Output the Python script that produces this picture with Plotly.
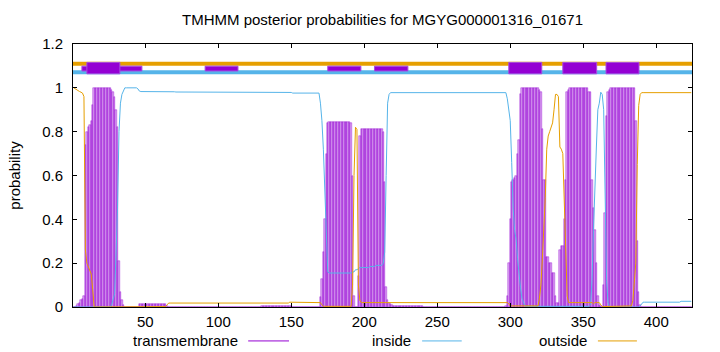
import plotly.graph_objects as go

# ---------------- data ----------------
seq_len = 424
residue = list(range(1, seq_len + 1))

tm_prob = [
    # 1-10
    0, 0, 0.005, 0.015, 0.02, 0.03, 0.035, 0.05, 0.74, 0.80,
    # 11-20
    0.82, 0.83, 0.85, 0.92, 1.0, 1.0, 1.0, 1.0, 1.0, 1.0,
    # 21-30
    1.0, 1.0, 1.0, 1.0, 1.0, 1.0, 0.99, 0.98, 0.96, 0.90,
    # 31-40
    0.82, 0.21, 0.07, 0.03, 0.01, 0, 0, 0, 0, 0,
    # 41-50
    0, 0, 0, 0, 0, 0.015, 0.015, 0.015, 0.015, 0.015,
    # 51-60
    0.015, 0.015, 0.015, 0.015, 0.015, 0.015, 0.015, 0.015, 0.015, 0.015,
    # 61-70
    0.015, 0.015, 0.015, 0.015, 0.005, 0, 0, 0, 0, 0,
    # 71-80
    0, 0, 0, 0, 0, 0, 0, 0, 0, 0,
    # 81-90
    0, 0, 0, 0, 0, 0, 0, 0, 0, 0,
    # 91-100
    0, 0, 0, 0, 0, 0, 0, 0, 0, 0,
    # 101-110
    0, 0, 0, 0, 0, 0, 0, 0, 0, 0,
    # 111-120
    0, 0, 0, 0, 0, 0, 0, 0, 0, 0,
    # 121-130
    0, 0, 0, 0, 0, 0, 0, 0, 0, 0.003,
    # 131-140
    0.003, 0.003, 0.003, 0.003, 0.003, 0.003, 0.003, 0.003, 0.003, 0.003,
    # 141-150
    0.003, 0.003, 0.003, 0.003, 0.003, 0.003, 0.003, 0.003, 0.003, 0.003,
    # 151-160
    0.002, 0.002, 0.002, 0.002, 0.002, 0.002, 0.002, 0.002, 0.002, 0.002,
    # 161-170
    0.002, 0.002, 0.002, 0.002, 0.002, 0.002, 0.002, 0.002, 0.002, 0.045,
    # 171-180
    0.13, 0.25, 0.40, 0.70, 0.84, 0.846, 0.846, 0.846, 0.846, 0.846,
    # 181-190
    0.846, 0.846, 0.846, 0.846, 0.846, 0.846, 0.846, 0.846, 0.846, 0.846,
    # 191-200
    0.84, 0.60, 0.05, 0, 0, 0.14, 0.78, 0.81, 0.81, 0.81,
    # 201-210
    0.81, 0.81, 0.81, 0.81, 0.81, 0.81, 0.81, 0.81, 0.81, 0.81,
    # 211-220
    0.81, 0.81, 0.80, 0.57, 0.09, 0.03, 0.02, 0.015, 0.01, 0.005,
    # 221-230
    0.003, 0.003, 0.003, 0.003, 0.003, 0.003, 0.003, 0.003, 0.003, 0.003,
    # 231-240
    0.003, 0.003, 0.003, 0.003, 0.003, 0.003, 0.003, 0.003, 0.003, 0.003,
    # 241-250
    0.002, 0.002, 0.002, 0.002, 0.002, 0.002, 0.002, 0.002, 0.002, 0.002,
    # 251-260
    0.002, 0.002, 0.002, 0.002, 0.002, 0.002, 0.002, 0.002, 0.002, 0.002,
    # 261-270
    0.002, 0.002, 0.002, 0.002, 0.002, 0.002, 0.002, 0.002, 0.002, 0.002,
    # 271-280
    0.002, 0.002, 0.002, 0.002, 0.002, 0.002, 0.002, 0.002, 0.002, 0.002,
    # 281-290
    0.002, 0.002, 0.002, 0.002, 0.002, 0.002, 0.002, 0.002, 0.002, 0.002,
    # 291-300
    0.002, 0.002, 0.002, 0.002, 0.002, 0.002, 0.003, 0.05, 0.20, 0.40,
    # 301-310
    0.57, 0.58, 0.59, 0.60, 0.70, 0.76, 0.97, 1.0, 1.0, 1.0,
    # 311-320
    1.0, 1.0, 1.0, 1.0, 1.0, 1.0, 1.0, 1.0, 1.0, 0.99,
    # 321-330
    0.98, 0.81, 0.58, 0.58, 0.23, 0.23, 0.20, 0.20, 0.155, 0.155,
    # 331-340
    0.05, 0.02, 0.02, 0.26, 0.28, 0.28, 0.40, 0.58, 0.98, 0.99,
    # 341-350
    1.0, 1.0, 1.0, 1.0, 1.0, 1.0, 1.0, 1.0, 1.0, 1.0,
    # 351-360
    1.0, 1.0, 1.0, 0.98, 0.98, 0.58, 0.45, 0.35, 0.20, 0.05,
    # 361-370
    0.01, 0.005, 0, 0.10, 0.43, 0.87, 0.98, 0.99, 1.0, 1.0,
    # 371-380
    1.0, 1.0, 1.0, 1.0, 1.0, 1.0, 1.0, 1.0, 1.0, 1.0,
    # 381-390
    1.0, 1.0, 1.0, 1.0, 1.0, 0.85, 0.30, 0.07, 0.01, 0,
    # 391-400
    0, 0, 0, 0, 0, 0, 0, 0, 0, 0,
    # 401-410
    0, 0, 0, 0, 0, 0, 0, 0, 0, 0,
    # 411-420
    0, 0, 0, 0, 0, 0, 0, 0, 0, 0,
    # 421-424
    0, 0, 0, 0,
]

inside_prob = [
    # 1-10
    0, 0, 0, 0, 0, 0, 0, 0, 0, 0,
    # 11-20
    0, 0, 0, 0, 0, 0, 0, 0, 0, 0,
    # 21-30
    0, 0, 0, 0, 0, 0, 0.01, 0.03, 0.06, 0.25,
    # 31-40
    0.45, 0.80, 0.93, 0.97, 0.99, 1.0, 1.0, 1.0, 1.0, 1.0,
    # 41-50
    1.0, 1.0, 1.0, 1.0, 0.995, 0.985, 0.983, 0.983, 0.983, 0.983,
    # 51-60
    0.983, 0.983, 0.983, 0.983, 0.983, 0.983, 0.983, 0.983, 0.983, 0.983,
    # 61-70
    0.983, 0.983, 0.983, 0.983, 0.985, 0.982, 0.982, 0.982, 0.982, 0.982,
    # 71-80
    0.981, 0.981, 0.981, 0.981, 0.981, 0.981, 0.981, 0.981, 0.981, 0.981,
    # 81-90
    0.981, 0.981, 0.981, 0.981, 0.981, 0.981, 0.981, 0.981, 0.981, 0.981,
    # 91-100
    0.981, 0.981, 0.981, 0.981, 0.981, 0.981, 0.981, 0.981, 0.981, 0.981,
    # 101-110
    0.981, 0.981, 0.981, 0.981, 0.981, 0.981, 0.981, 0.981, 0.981, 0.981,
    # 111-120
    0.981, 0.981, 0.981, 0.981, 0.981, 0.981, 0.981, 0.981, 0.981, 0.981,
    # 121-130
    0.981, 0.981, 0.981, 0.981, 0.981, 0.981, 0.981, 0.981, 0.981, 0.981,
    # 131-140
    0.979, 0.979, 0.979, 0.979, 0.979, 0.979, 0.979, 0.979, 0.979, 0.979,
    # 141-150
    0.979, 0.979, 0.979, 0.979, 0.979, 0.979, 0.979, 0.979, 0.979, 0.979,
    # 151-160
    0.976, 0.976, 0.976, 0.976, 0.976, 0.976, 0.976, 0.976, 0.976, 0.976,
    # 161-170
    0.976, 0.976, 0.976, 0.976, 0.976, 0.976, 0.976, 0.976, 0.976, 0.93,
    # 171-180
    0.85, 0.72, 0.50, 0.27, 0.16, 0.155, 0.155, 0.155, 0.155, 0.155,
    # 181-190
    0.155, 0.155, 0.155, 0.155, 0.155, 0.155, 0.155, 0.155, 0.155, 0.155,
    # 191-200
    0.155, 0.16, 0.16, 0.17, 0.17, 0.175, 0.18, 0.18, 0.18, 0.18,
    # 201-210
    0.18, 0.18, 0.18, 0.185, 0.185, 0.185, 0.185, 0.19, 0.19, 0.19,
    # 211-220
    0.19, 0.19, 0.20, 0.25, 0.60, 0.93, 0.97, 0.978, 0.978, 0.978,
    # 221-230
    0.978, 0.978, 0.978, 0.978, 0.978, 0.978, 0.978, 0.978, 0.978, 0.978,
    # 231-240
    0.978, 0.978, 0.978, 0.978, 0.978, 0.978, 0.978, 0.978, 0.978, 0.978,
    # 241-250
    0.978, 0.978, 0.978, 0.978, 0.978, 0.978, 0.978, 0.978, 0.978, 0.978,
    # 251-260
    0.978, 0.978, 0.978, 0.978, 0.978, 0.978, 0.978, 0.978, 0.978, 0.978,
    # 261-270
    0.978, 0.978, 0.978, 0.978, 0.978, 0.978, 0.978, 0.978, 0.978, 0.978,
    # 271-280
    0.978, 0.978, 0.978, 0.978, 0.978, 0.978, 0.978, 0.978, 0.978, 0.978,
    # 281-290
    0.978, 0.978, 0.978, 0.978, 0.978, 0.978, 0.978, 0.978, 0.978, 0.978,
    # 291-300
    0.978, 0.978, 0.978, 0.978, 0.978, 0.978, 0.978, 0.95, 0.90, 0.85,
    # 301-310
    0.66, 0.45, 0.35, 0.31, 0.22, 0.14, 0.09, 0.04, 0.02, 0.005,
    # 311-320
    0.003, 0.003, 0.003, 0.003, 0.003, 0.003, 0.003, 0.003, 0.003, 0.003,
    # 321-330
    0.003, 0.003, 0.003, 0.003, 0.003, 0.003, 0.003, 0.003, 0.003, 0.003,
    # 331-340
    0.003, 0.003, 0.003, 0.003, 0.003, 0.003, 0.003, 0.003, 0.003, 0.003,
    # 341-350
    0.003, 0.003, 0.003, 0.003, 0.003, 0.003, 0.003, 0.003, 0.003, 0.003,
    # 351-360
    0.003, 0.003, 0.003, 0.003, 0.01, 0.12, 0.35, 0.58, 0.73, 0.90,
    # 361-370
    0.93, 0.98, 0.97, 0.90, 0.55, 0.12, 0.02, 0, 0, 0,
    # 371-380
    0, 0, 0, 0, 0, 0, 0, 0, 0, 0,
    # 381-390
    0, 0, 0, 0, 0, 0, 0, 0, 0.005, 0.015,
    # 391-400
    0.022, 0.022, 0.022, 0.022, 0.022, 0.022, 0.022, 0.022, 0.022, 0.022,
    # 401-410
    0.022, 0.022, 0.022, 0.022, 0.022, 0.022, 0.022, 0.022, 0.022, 0.022,
    # 411-420
    0.022, 0.022, 0.022, 0.022, 0.022, 0.022, 0.026, 0.026, 0.026, 0.026,
    # 421-424
    0.026, 0.026, 0.026, 0.026,
]

outside_prob = [
    # 1-10
    1.0, 0.995, 0.99, 0.985, 0.983, 0.98, 0.976, 0.96, 0.26, 0.20,
    # 11-20
    0.18, 0.17, 0.15, 0.08, 0, 0, 0, 0, 0, 0,
    # 21-30
    0, 0, 0, 0, 0, 0, 0, 0, 0, 0,
    # 31-40
    0, 0, 0, 0, 0, 0, 0, 0, 0, 0,
    # 41-50
    0, 0, 0, 0, 0, 0.002, 0.002, 0.002, 0.002, 0.002,
    # 51-60
    0.002, 0.002, 0.002, 0.002, 0.002, 0.002, 0.002, 0.002, 0.002, 0.002,
    # 61-70
    0.002, 0.002, 0.002, 0.002, 0.01, 0.018, 0.018, 0.018, 0.018, 0.018,
    # 71-80
    0.018, 0.018, 0.018, 0.018, 0.018, 0.018, 0.018, 0.018, 0.018, 0.018,
    # 81-90
    0.018, 0.018, 0.018, 0.018, 0.018, 0.018, 0.018, 0.018, 0.018, 0.018,
    # 91-100
    0.018, 0.018, 0.018, 0.018, 0.018, 0.018, 0.018, 0.018, 0.018, 0.018,
    # 101-110
    0.018, 0.018, 0.018, 0.018, 0.018, 0.018, 0.018, 0.018, 0.018, 0.018,
    # 111-120
    0.018, 0.018, 0.018, 0.018, 0.018, 0.018, 0.018, 0.018, 0.018, 0.018,
    # 121-130
    0.018, 0.018, 0.018, 0.018, 0.018, 0.018, 0.018, 0.018, 0.018, 0.018,
    # 131-140
    0.018, 0.018, 0.018, 0.018, 0.018, 0.018, 0.018, 0.018, 0.018, 0.018,
    # 141-150
    0.018, 0.018, 0.018, 0.018, 0.018, 0.018, 0.018, 0.018, 0.022, 0.022,
    # 151-160
    0.022, 0.022, 0.022, 0.022, 0.022, 0.022, 0.022, 0.022, 0.022, 0.022,
    # 161-170
    0.022, 0.022, 0.022, 0.022, 0.022, 0.022, 0.022, 0.022, 0.022, 0.02,
    # 171-180
    0.01, 0.003, 0.003, 0.003, 0.003, 0.003, 0.003, 0.003, 0.003, 0.003,
    # 181-190
    0.003, 0.003, 0.003, 0.003, 0.003, 0.003, 0.003, 0.003, 0.003, 0.003,
    # 191-200
    0.003, 0.10, 0.60, 0.82, 0.81, 0.10, 0.03, 0.02, 0.02, 0.02,
    # 201-210
    0.02, 0.02, 0.02, 0.02, 0.02, 0.02, 0.02, 0.02, 0.02, 0.02,
    # 211-220
    0.02, 0.02, 0.02, 0.02, 0.02, 0.02, 0.02, 0.02, 0.02, 0.02,
    # 221-230
    0.02, 0.02, 0.02, 0.02, 0.02, 0.02, 0.02, 0.02, 0.02, 0.02,
    # 231-240
    0.02, 0.02, 0.02, 0.02, 0.02, 0.02, 0.02, 0.02, 0.02, 0.02,
    # 241-250
    0.02, 0.02, 0.02, 0.02, 0.02, 0.02, 0.02, 0.02, 0.02, 0.02,
    # 251-260
    0.02, 0.02, 0.02, 0.02, 0.02, 0.02, 0.02, 0.02, 0.02, 0.02,
    # 261-270
    0.02, 0.02, 0.02, 0.02, 0.02, 0.02, 0.02, 0.02, 0.02, 0.02,
    # 271-280
    0.02, 0.02, 0.02, 0.02, 0.02, 0.02, 0.02, 0.02, 0.02, 0.02,
    # 281-290
    0.02, 0.02, 0.02, 0.02, 0.02, 0.02, 0.02, 0.02, 0.02, 0.02,
    # 291-300
    0.02, 0.02, 0.02, 0.02, 0.02, 0.02, 0.02, 0.02, 0.015, 0.005,
    # 301-310
    0.005, 0.005, 0.005, 0.005, 0.005, 0.005, 0.005, 0.005, 0.005, 0.005,
    # 311-320
    0.005, 0.005, 0.005, 0.005, 0.005, 0.005, 0.005, 0.005, 0.005, 0.04,
    # 321-330
    0.10, 0.22, 0.35, 0.50, 0.72, 0.78, 0.80, 0.82, 0.84, 0.90,
    # 331-340
    0.97, 0.97, 0.96, 0.73, 0.72, 0.70, 0.50, 0.20, 0.05, 0.02,
    # 341-350
    0.02, 0.02, 0.02, 0.02, 0.02, 0.02, 0.02, 0.02, 0.02, 0.02,
    # 351-360
    0.02, 0.02, 0.02, 0.02, 0.02, 0.02, 0.015, 0.02, 0.02, 0.02,
    # 361-370
    0.02, 0.01, 0.002, 0.002, 0.002, 0.002, 0.002, 0.002, 0.002, 0.002,
    # 371-380
    0.002, 0.002, 0.002, 0.002, 0.002, 0.002, 0.002, 0.002, 0.002, 0.002,
    # 381-390
    0.002, 0.002, 0.005, 0.03, 0.12, 0.20, 0.65, 0.92, 0.97, 0.978,
    # 391-400
    0.978, 0.978, 0.978, 0.978, 0.978, 0.978, 0.978, 0.978, 0.978, 0.978,
    # 401-410
    0.978, 0.978, 0.978, 0.978, 0.978, 0.978, 0.978, 0.978, 0.978, 0.978,
    # 411-420
    0.978, 0.978, 0.978, 0.978, 0.978, 0.978, 0.978, 0.978, 0.978, 0.978,
    # 421-424
    0.978, 0.978, 0.978, 0.978,
]

# predicted topology segments shown above the curves (residue start, end)
tm_helices = [(10, 32.6), (299, 321.6), (336, 359.2), (365.6, 388.2)]
minor_segments = [(6.6, 47.7), (91, 113.5), (175, 197.7), (207, 229.9)]

x_ticks = [50, 100, 150, 200, 250, 300, 350, 400]
y_ticks = [0, 0.2, 0.4, 0.6, 0.8, 1.0, 1.2]
y_tick_labels = ["0", "0.2", "0.4", "0.6", "0.8", "1", "1.2"]

title_text = "TMHMM posterior probabilities for MGYG000001316_01671"
legend_names = ["transmembrane", "inside", "outside"]

assert len(tm_prob) == seq_len and len(inside_prob) == seq_len and len(outside_prob) == seq_len

# ---------------- styling ----------------
C_TM = "#9400d3"
C_IN = "#56b4e9"
C_OUT = "#e69f00"
FONT = "Liberation Sans"
FS = 15

fig = go.Figure()
fig.add_trace(go.Bar(
    x=residue, y=tm_prob, width=1,
    marker=dict(color="rgba(148,0,211,0.35)", line=dict(color="rgba(148,0,211,0.8)", width=0.5)),
    showlegend=False, hoverinfo="skip",
))
fig.add_trace(go.Scatter(x=residue, y=inside_prob, mode="lines",
                         line=dict(color=C_IN, width=1), showlegend=False))
fig.add_trace(go.Scatter(x=residue, y=outside_prob, mode="lines",
                         line=dict(color=C_OUT, width=1), showlegend=False))

shapes = []
# top topology bars
shapes.append(dict(type="line", xref="paper", yref="y", x0=0, x1=1, y0=1.11, y1=1.11,
                   line=dict(color=C_OUT, width=4)))
shapes.append(dict(type="line", xref="paper", yref="y", x0=0, x1=1, y0=1.071, y1=1.071,
                   line=dict(color=C_IN, width=4)))
for s, e in minor_segments:
    shapes.append(dict(type="rect", xref="x", yref="y", x0=s, x1=e, y0=1.077, y1=1.099,
                       fillcolor=C_TM, line=dict(color="#a64ce0", width=1)))
for s, e in tm_helices:
    shapes.append(dict(type="rect", xref="x", yref="y", x0=s, x1=e, y0=1.064, y1=1.116,
                       fillcolor=C_TM, line=dict(color="#a64ce0", width=1)))

# legend (gnuplot style: text then sample line)
annotations = []
legend_text_right = [0.270, 0.549, 0.834]
legend_line = [(0.283, 0.349), (0.564, 0.628), (0.848, 0.911)]
legend_y = -0.129
for name, xr, (l0, l1), col in zip(legend_names, legend_text_right, legend_line, [C_TM, C_IN, C_OUT]):
    annotations.append(dict(xref="paper", yref="paper", x=xr, y=legend_y, text=name,
                            showarrow=False, xanchor="right", yanchor="middle",
                            font=dict(family=FONT, size=FS, color="black")))
    shapes.append(dict(type="line", xref="paper", yref="paper", x0=l0, x1=l1,
                       y0=legend_y, y1=legend_y, line=dict(color=col, width=1)))

# y label
annotations.append(dict(xref="paper", yref="paper", x=-0.095, y=0.5, text="probability",
                        textangle=-90, showarrow=False, xanchor="center", yanchor="middle",
                        font=dict(family=FONT, size=FS, color="black")))

fig.update_layout(
    width=720, height=352,
    margin=dict(l=73, r=28, t=44, b=45),
    paper_bgcolor="white", plot_bgcolor="white",
    bargap=0,
    title=dict(text=title_text, x=0.5, xref="paper", xanchor="center",
               y=1 - 20 / 352, yref="container", yanchor="middle",
               font=dict(family=FONT, size=FS, color="black")),
    font=dict(family=FONT, size=FS, color="black"),
    shapes=shapes, annotations=annotations,
    xaxis=dict(range=[0.5, 424.5], tickmode="array", tickvals=x_ticks,
               ticks="inside", ticklen=4, tickcolor="black", mirror="allticks",
               showline=True, linecolor="black", linewidth=1,
               showgrid=False, zeroline=False, ticklabelstandoff=1,
               tickfont=dict(family=FONT, size=FS, color="black")),
    yaxis=dict(range=[0, 1.2], tickmode="array", tickvals=y_ticks, ticktext=y_tick_labels,
               ticks="inside", ticklen=4, tickcolor="black", mirror="allticks",
               showline=True, linecolor="black", linewidth=1,
               showgrid=False, zeroline=False, ticklabelstandoff=6,
               tickfont=dict(family=FONT, size=FS, color="black")),
)

fig.write_html("out.html", config={"displayModeBar": False})
